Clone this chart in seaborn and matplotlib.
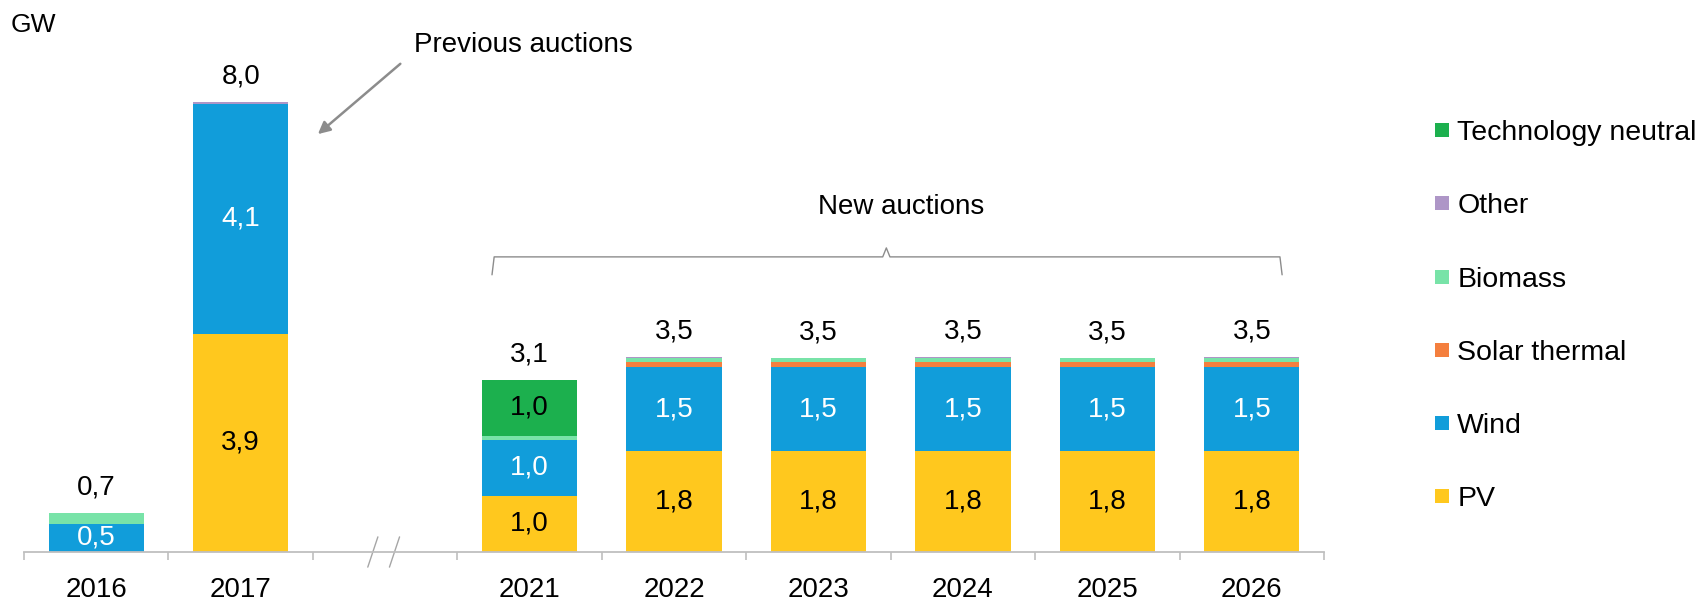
import numpy as np
import pandas as pd
import matplotlib
matplotlib.use("Agg")
import matplotlib.pyplot as plt
from matplotlib.lines import Line2D
import seaborn as sns

# --- dati (GW) ---
years = ["2016", "2017", "2021", "2022", "2023", "2024", "2025", "2026"]
pv = [0.0, 3.9, 1.0, 1.8, 1.8, 1.8, 1.8, 1.8]
wind = [0.5, 4.1, 1.0, 1.5, 1.5, 1.5, 1.5, 1.5]
solar_thermal = [0.0, 0.0, 0.0, 0.1, 0.1, 0.1, 0.1, 0.1]
biomass = [0.2, 0.0, 0.08, 0.06, 0.06, 0.06, 0.06, 0.06]
other = [0.0, 0.03, 0.0, 0.03, 0.0, 0.03, 0.0, 0.03]
tech_neutral = [0.0, 0.0, 1.0, 0.0, 0.0, 0.0, 0.0, 0.0]

series_names = ["PV", "Wind", "Solar thermal", "Biomass", "Other", "Technology neutral"]
series_values = [pv, wind, solar_thermal, biomass, other, tech_neutral]
colors = {"PV": "#FFC81E", "Wind": "#119DDA", "Solar thermal": "#F47F3E",
          "Biomass": "#78E3A8", "Other": "#AE96C7", "Technology neutral": "#1CB04E"}
label_colors = {"PV": "black", "Wind": "white", "Technology neutral": "black"}

# posizioni: salto tra 2017 e 2021
x_pos = [0, 1, 3, 4, 5, 6, 7, 8]

rows = []
for name, vals in zip(series_names, series_values):
    for x, v in zip(x_pos, vals):
        rows.append({"x": x, "serie": name, "gw": v})
df = pd.DataFrame(rows)

sns.set_theme(style="white")
plt.rcParams["font.family"] = ["Liberation Sans", "DejaVu Sans"]
plt.rcParams["text.color"] = "black"
plt.rcParams["xtick.color"] = "black"
plt.rcParams["xtick.labelcolor"] = "black"

fig = plt.figure(figsize=(17.07, 6.01), dpi=100)
ax = fig.add_axes([24 / 1707, 49 / 601, 1300 / 1707, 537.6 / 601])

# hue order: il primo livello finisce in cima allo stack
sns.histplot(data=df, x="x", weights="gw", hue="serie",
             hue_order=series_names[::-1], multiple="stack", discrete=True,
             shrink=0.66, palette=colors, alpha=1, linewidth=0,
             legend=False, ax=ax)

ax.set_xlim(-0.5, 8.5)
ax.set_ylim(0, 9.6)

# etichette dei segmenti e dei totali
bottoms = np.zeros(len(years))
for name, vals in zip(series_names, series_values):
    vals = np.array(vals)
    if name in label_colors:
        for x, b, v in zip(x_pos, bottoms, vals):
            if v >= 0.5:
                ax.text(x, b + v / 2, f"{v:.1f}".replace(".", ","), ha="center",
                        va="center", fontsize=20, color=label_colors[name])
    bottoms = bottoms + vals
for x, tot in zip(x_pos, bottoms):
    ax.annotate(f"{tot:.1f}".replace(".", ","), (x, tot), xytext=(0, 9),
                textcoords="offset points", ha="center", va="bottom", fontsize=20)

# assi
for s in ["top", "right", "left"]:
    ax.spines[s].set_visible(False)
ax.spines["bottom"].set_color("#BFBFBF")
ax.spines["bottom"].set_linewidth(1.3)
ax.set_yticks([])
ax.set_ylabel("")
ax.set_xlabel("")
ax.set_xticks(x_pos)
ax.set_xticklabels(years, fontsize=20)
ax.tick_params(axis="x", which="major", length=0, pad=18, labelcolor="black")
ax.set_xticks([-0.5, 0.5, 1.5, 2.5, 3.5, 4.5, 5.5, 6.5, 7.5, 8.5], minor=True)
ax.tick_params(axis="x", which="minor", length=6, width=1.2, color="#BFBFBF",
               bottom=True)

# segno di interruzione
for x0 in [1.88, 2.03]:
    ax.plot([x0, x0 + 0.07], [-0.27, 0.27], color="#A6A6A6", lw=1, clip_on=False)

# graffa "New auctions"
bx0, bx1, bmid = 2.74, 8.21, 5.47
ytop, yend, ytip = 5.27, 4.95, 5.43
ax.plot([bx0, bx0 + 0.015, bmid - 0.025, bmid, bmid + 0.025, bx1 - 0.015, bx1],
        [yend, ytop, ytop, ytip, ytop, ytop, yend], color="#8C8C8C", lw=1)
ax.text(5.57, 6.16, "New auctions", ha="center", va="center", fontsize=20)

# freccia "Previous auctions"
ax.annotate("", xy=(1.52, 7.43), xytext=(2.12, 8.75),
            arrowprops=dict(arrowstyle="-|>", color="#8C8C8C", lw=1.8,
                            mutation_scale=18))
ax.text(2.2, 9.06, "Previous auctions", ha="left", va="center", fontsize=20)

fig.text(0.006, 0.958, "GW", ha="left", va="center", fontsize=19)

# legenda
handles = [Line2D([], [], marker="s", linestyle="none", markersize=10,
                  markerfacecolor=colors[n], markeredgewidth=0)
           for n in series_names[::-1]]
fig.legend(handles, series_names[::-1], loc="upper left",
           bbox_to_anchor=(1433 / 1707, 1 - 120 / 601), frameon=False,
           fontsize=20.5, labelspacing=1.66, handlelength=0.6, handletextpad=0.25,
           borderpad=0, borderaxespad=0)

fig.savefig("out.png", dpi=100)
